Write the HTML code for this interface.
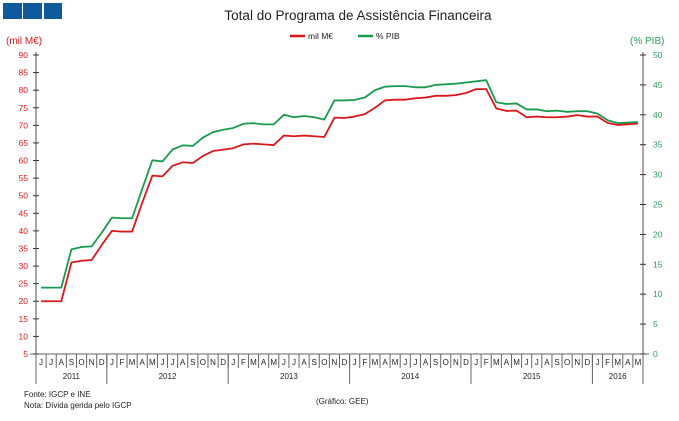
<!DOCTYPE html>
<html><head><meta charset="utf-8"><style>
body{margin:0;background:#fff;font-family:"Liberation Sans",sans-serif}
svg text{font-family:"Liberation Sans",sans-serif}
</style></head><body>
<svg id="chart" width="679" height="416" viewBox="0 0 679 416" xmlns="http://www.w3.org/2000/svg">
<rect x="3" y="3" width="19" height="16" fill="#0f5a9c"/>
<rect x="23" y="3" width="19" height="16" fill="#0f5a9c"/>
<rect x="44" y="3" width="18" height="16" fill="#0f5a9c"/>
<text x="358" y="20" font-size="13.5" text-anchor="middle" fill="#222">Total do Programa de Assistência Financeira</text>
<g>
<line x1="290" y1="36" x2="305" y2="36" stroke="#d7191c" stroke-width="2.5"/>
<text x="308" y="39" font-size="8.5" fill="#222">mil M€</text>
<line x1="358" y1="36" x2="373" y2="36" stroke="#1a9a4e" stroke-width="2.5"/>
<text x="376" y="39" font-size="8.5" fill="#222">% PIB</text>
</g>
<text x="6" y="44" font-size="10" fill="#d7191c">(mil M€)</text>
<text x="630" y="44" font-size="10" fill="#2e9b5f">(% PIB)</text>
<g id="axes"></g>
<g id="series"></g>
<text x="24" y="397" font-size="8" fill="#222">Fonte: IGCP e INE</text>
<text x="24" y="408" font-size="8" fill="#222">Nota: Dívida gerida pelo IGCP</text>
<text x="316" y="404" font-size="8" fill="#222">(Gráfico: GEE)</text>
</svg>
<script>
const monthLabels = ["J","J","A","S","O","N","D","J","F","M","A","M","J","J","A","S","O","N","D","J","F","M","A","M","J","J","A","S","O","N","D","J","F","M","A","M","J","J","A","S","O","N","D","J","F","M","A","M","J","J","A","S","O","N","D","J","F","M","A","M"];
const yearLabels = ["2011","2012","2013","2014","2015","2016"];
const yearMonthCounts = [7,12,12,12,12,5];
const leftTicks = [5,10,15,20,25,30,35,40,45,50,55,60,65,70,75,80,85,90];
const rightTicks = [0,5,10,15,20,25,30,35,40,45,50];
const milValues = [20,20,20,31,31.5,31.7,36,40,39.8,39.8,48,55.7,55.5,58.5,59.5,59.3,61.3,62.7,63.1,63.5,64.6,64.8,64.6,64.4,67.1,66.9,67.1,66.9,66.7,72.2,72.1,72.5,73.2,75,77.1,77.3,77.3,77.7,77.9,78.4,78.4,78.6,79.2,80.3,80.3,74.8,74.1,74.2,72.3,72.5,72.3,72.3,72.5,72.9,72.5,72.5,70.7,70.1,70.3,70.5];
const pibValues = [11.1,11.1,11.1,17.5,17.9,18.0,20.3,22.8,22.7,22.7,27.6,32.4,32.2,34.2,34.9,34.8,36.2,37.1,37.5,37.8,38.5,38.6,38.4,38.4,40.0,39.6,39.8,39.6,39.2,42.4,42.4,42.5,42.9,44.1,44.7,44.8,44.8,44.6,44.6,45.0,45.1,45.2,45.4,45.6,45.8,42.1,41.8,41.9,40.9,40.9,40.6,40.7,40.5,40.6,40.6,40.2,39.1,38.6,38.7,38.8];

const NS="http://www.w3.org/2000/svg";
const X0=36,X1=643,YT=55,YB=354;
const n=monthLabels.length, cw=(X1-X0)/n;
const xC=i=>X0+(i+0.5)*cw;
const yL=v=>YB-(v-5)/(90-5)*(YB-YT);
const yR=v=>YB-(v-0)/(50-0)*(YB-YT);
function mk(tag,attrs,parent){const e=document.createElementNS(NS,tag);for(const k in attrs)e.setAttribute(k,attrs[k]);parent.appendChild(e);return e;}
const ax=document.getElementById('axes'), se=document.getElementById('series');

let e=mk('line',{x1:X0,y1:YT-3,x2:X0,y2:YB,stroke:'#888','stroke-width':1.5},ax);


e=mk('line',{x1:X1,y1:YT-3,x2:X1,y2:YB,stroke:'#888','stroke-width':1.5},ax);


e=mk('line',{x1:X0-6,y1:YB,x2:X1+6,y2:YB,stroke:'#666','stroke-width':1},ax);



leftTicks.forEach(v=>{
  const y=yL(v);
  let t=mk('line',{x1:X0-3,y1:y,x2:X0+3,y2:y,stroke:'#333'},ax);
  
  
  let l=mk('text',{x:X0-8,y:y+3,'font-size':8.5,'text-anchor':'end',fill:'#d7191c'},ax);
  l.textContent=v;
  
  
});
rightTicks.forEach(v=>{
  const y=yR(v);
  let t=mk('line',{x1:X1-3,y1:y,x2:X1+3,y2:y,stroke:'#333'},ax);
  
  
  let l=mk('text',{x:X1+10,y:y+3,'font-size':8.5,fill:'#2e9b5f'},ax);
  l.textContent=v;
  
  
});
monthLabels.forEach((m,i)=>{
  let t=mk('line',{x1:X0+i*cw,y1:YB,x2:X0+i*cw,y2:YB+14,stroke:'#666'},ax);
  
  
  let l=mk('text',{x:xC(i),y:YB+11,'font-size':8,'text-anchor':'middle',fill:'#222'},ax);
  l.textContent=m;
  
  
});
let start=0;
yearLabels.forEach((yr,k)=>{
  const cnt=yearMonthCounts[k];
  let t=mk('line',{x1:X0+start*cw,y1:YB,x2:X0+start*cw,y2:YB+30,stroke:'#666'},ax);
  
  
  let l=mk('text',{x:X0+(start+cnt/2)*cw,y:YB+25,'font-size':8,'text-anchor':'middle',fill:'#222'},ax);
  l.textContent=yr;
  
  
  start+=cnt;
});
e=mk('line',{x1:X1,y1:YB,x2:X1,y2:YB+30,stroke:'#666'},ax);



let p=mk('polyline',{points:pibValues.map((v,i)=>xC(i)+','+yR(v)).join(' '),fill:'none',stroke:'#1a9a4e','stroke-width':1.8,'stroke-linejoin':'round'},se);


p=mk('polyline',{points:milValues.map((v,i)=>xC(i)+','+yL(v)).join(' '),fill:'none',stroke:'#d7191c','stroke-width':1.8,'stroke-linejoin':'round'},se);


</script>
</body></html>
